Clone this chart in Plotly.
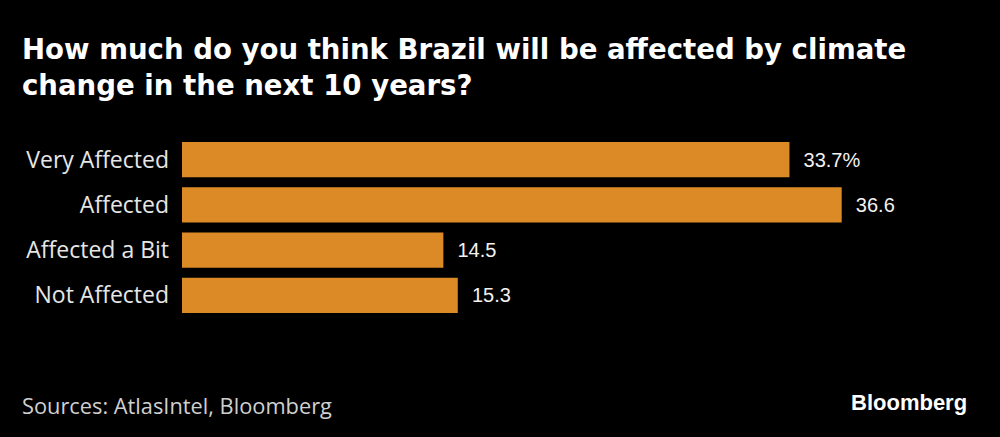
import plotly.graph_objects as go

categories = ["Very Affected", "Affected", "Affected a Bit", "Not Affected"]
values = [33.7, 36.6, 14.5, 15.3]
labels = ["33.7%", "36.6", "14.5", "15.3"]

title_lines = ["How much do you think Brazil will be affected by climate",
               "change in the next 10 years?"]
source = "Sources: AtlasIntel, Bloomberg"
brand = "Bloomberg"

W, H = 1000, 437
L, R, T, B = 182, 97, 137, 119

fig = go.Figure(go.Bar(
    y=categories,
    x=values,
    orientation="h",
    marker=dict(color="#dc8a26", line=dict(width=0)),
    text=["  " + t for t in labels],
    textposition="outside",
    textfont=dict(family="Liberation Sans, Arial, sans-serif", size=20, color="#f2f2f2"),
    cliponaxis=False,
    hoverinfo="skip",
))

fig.update_layout(
    width=W, height=H,
    paper_bgcolor="#000000", plot_bgcolor="#000000",
    margin=dict(l=L, r=R, t=T, b=B),
    bargap=0.22,
    showlegend=False,
    xaxis=dict(range=[0, 40], visible=False, fixedrange=True),
    yaxis=dict(autorange="reversed", showgrid=False, zeroline=False, showline=False,
               ticks="", ticklabelstandoff=12, fixedrange=True,
               tickfont=dict(family="Open Sans, Noto Sans, sans-serif", size=23, color="#e6e6e6")),
)

pw = W - L - R
ph = H - T - B
def px(x):
    return (x - L) / pw
def py(y):
    return (H - B - y) / ph

fig.add_annotation(text="<br>".join("<b>" + s + "</b>" for s in title_lines),
                   x=px(20), y=py(31), xref="paper", yref="paper", xanchor="left", yanchor="top",
                   align="left", showarrow=False,
                   font=dict(family="DejaVu Sans, Verdana, sans-serif", size=27.6, color="#ffffff"))
fig.add_annotation(text=source, x=px(20), y=py(405), xref="paper", yref="paper",
                   xanchor="left", yanchor="middle", showarrow=False,
                   font=dict(family="Open Sans, Noto Sans, sans-serif", size=21.8, color="#d0d0d0"))
fig.add_annotation(text="<b>" + brand + "</b>", x=px(969), y=py(402), xref="paper", yref="paper",
                   xanchor="right", yanchor="middle", showarrow=False,
                   font=dict(family="Liberation Sans, Arial, sans-serif", size=22, color="#ffffff"))

fig.write_html("out.html", config={"displayModeBar": False},
               post_script="document.body.style.margin='0';document.body.style.background='#000';")
